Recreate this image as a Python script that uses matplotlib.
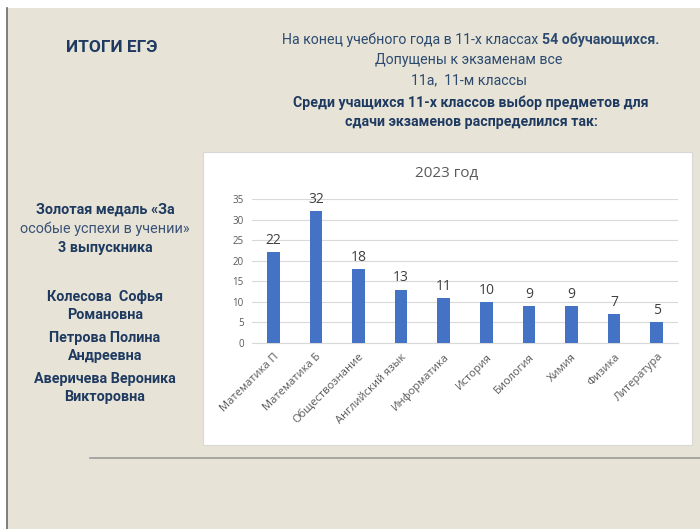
import matplotlib.pyplot as plt
from matplotlib.patches import Rectangle
from matplotlib.lines import Line2D

subjects = ['Математика П', 'Математика Б', 'Обществознание', 'Английский язык',
            'Информатика', 'История', 'Биология', 'Химия', 'Физика', 'Литература']
counts = [22, 32, 18, 13, 11, 10, 9, 9, 7, 5]
yticks = [0, 5, 10, 15, 20, 25, 30, 35]

header_lines = ['Допущены к экзаменам все', '11а,  11-м классы']
bold_lines = ['Среди учащихся 11-х классов выбор предметов для',
              'сдачи экзаменов распределился так:']
medal_lines = ['Золотая медаль «За', 'особые успехи в учении»', '3 выпускника']
names = ['Колесова  Софья', 'Романовна', 'Петрова Полина', 'Андреевна',
         'Аверичева Вероника', 'Викторовна']

W, H = 700, 529
narrow = ['Roboto', 'DejaVu Sans']
sans = ['Open Sans', 'DejaVu Sans']
navy = '#1f3a60'

fig = plt.figure(figsize=(7, 5.29), dpi=100)
fig.patch.set_facecolor('white')


def fx(px):
    return px / W


def fy(py):
    return 1 - py / H


# slide background
fig.add_artist(Rectangle((fx(7), 0), 1, fy(8), transform=fig.transFigure,
                         facecolor='#e7e4d7', edgecolor='none', zorder=0))
fig.add_artist(Line2D([fx(7), fx(7)], [0, fy(8)], transform=fig.transFigure,
                      color='#6b6b6b', lw=1.2))
fig.add_artist(Line2D([fx(90), 1], [fy(458), fy(458)], transform=fig.transFigure,
                      color='#9a9a98', lw=1.2))

# chart box
fig.add_artist(Rectangle((fx(203), fy(445)), fx(692) - fx(203), fy(152) - fy(445),
                         transform=fig.transFigure, facecolor='white',
                         edgecolor='#d8d8d4', lw=0.8, zorder=1))

# titles
fig.text(fx(66), fy(47), 'ИТОГИ ЕГЭ', family=narrow, fontsize=12.4, fontweight='bold',
         color=navy, va='center', ha='left')
fig.text(fx(542), fy(40), 'На конец учебного года в 11-х классах ', family=narrow,
         fontsize=10.2, color='#2c4a70', ha='right', va='center')
fig.text(fx(542), fy(40), '54 обучающихся.', family=narrow, fontsize=10.2,
         fontweight='bold', color='#2c4a70', ha='left', va='center')
for i, line in enumerate(header_lines):
    fig.text(fx(469), fy(60 + 20 * i), line, family=narrow, fontsize=10.2,
             color='#2c4a70', ha='center', va='center')
for i, line in enumerate(bold_lines):
    fig.text(fx(471), fy(103 + 19 * i), line, family=narrow, fontsize=10.2,
             fontweight='bold', color=navy, ha='center', va='center')

# left column
for i, line in enumerate(medal_lines):
    fig.text(fx(105), fy(210 + 19 * i), line, family=narrow, fontsize=10.4,
             fontweight='normal' if i == 1 else 'bold',
             color='#3a5276' if i == 1 else navy, ha='center', va='center')
for i, line in enumerate(names):
    fig.text(fx(105), fy(297 + 18 * i + 5 * (i // 2)), line, family=narrow,
             fontsize=10.4, fontweight='bold', color=navy, ha='center', va='center')

# chart
ax = fig.add_axes([fx(252), fy(343), fx(678) - fx(252), fy(199) - fy(343)])
ax.set_facecolor('none')
ax.set_zorder(2)
x = range(len(subjects))
ax.bar(x, counts, width=0.3, color='#4472c4', zorder=3)
for xi, v in zip(x, counts):
    ax.annotate(str(v), (xi, v), xytext=(0, 3), textcoords='offset points',
                ha='center', va='bottom', fontsize=10, color='#404040', family=sans)
ax.set_xlim(-0.5, len(subjects) - 0.5)
ax.set_ylim(0, 35)
ax.set_yticks(yticks)
ax.grid(axis='y', color='#d9d9d9', lw=0.8, zorder=0)
ax.set_axisbelow(True)
for s in ['top', 'right', 'left']:
    ax.spines[s].set_visible(False)
ax.spines['bottom'].set_color('#d9d9d9')
ax.tick_params(length=0, colors='#595959', pad=6)
ax.tick_params(axis='y', labelsize=7)
ax.tick_params(axis='x', labelsize=8)
ax.set_xticks(list(x))
ax.set_xticklabels(subjects, rotation=45, ha='right', rotation_mode='anchor',
                   family=sans)
for t in ax.get_yticklabels():
    t.set_family(sans)
fig.text(fx(447), fy(174), '2023 год', fontsize=11, color='#595959',
         ha='center', va='center', family=sans)

fig.savefig('out.png', dpi=100)
